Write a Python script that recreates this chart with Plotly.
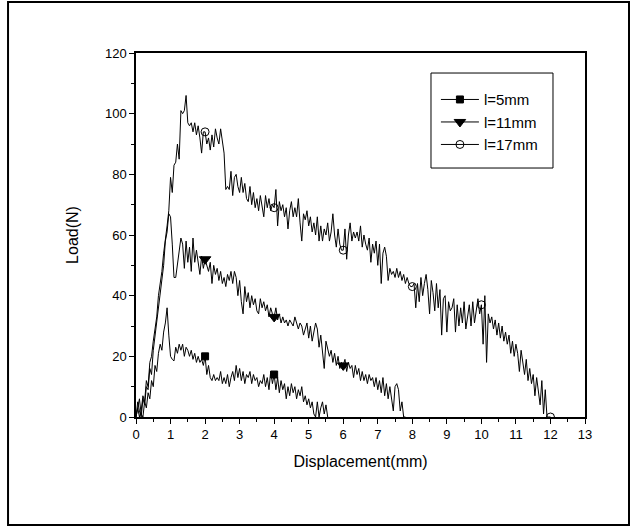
import plotly.graph_objects as go

STEP = 0.05  # displacement sampling interval (mm)

load_5mm = [0, 3, 6, 1, 0, 5, 3, 8, 6, 12, 10, 17, 15, 21, 24, 22, 28, 31, 36, 27,
            20, 19, 18.5, 23, 21, 24, 22, 24, 20, 23, 22, 20, 22, 19, 21, 18, 20, 18, 19, 17,
            20, 14, 17, 13, 12, 14, 12, 13, 12, 15, 11, 13, 11, 14, 10, 13, 15, 12, 17, 13,
            16, 12, 15, 11, 14, 13, 15, 11, 14, 12, 13, 10, 12, 11, 14, 10, 13, 9, 15, 11,
            14, 9, 13, 8, 12, 9, 11, 6, 10, 7, 11, 8, 10, 6, 9, 7, 10, 5, 7, 4,
            6, 3, 5, 1, 0, 5, 0, 3, 5, 1, 4, 0]

load_11mm = [0, 5, 2, 0, 6, 4, 10, 9, 16, 14, 22, 27, 30, 37, 42, 47, 50, 58, 61, 67,
             66, 57, 46, 46, 50, 55, 59, 57, 49, 58, 51, 56, 48, 59, 51, 55, 50, 47, 53, 49,
             52, 50, 48, 51, 44, 50, 47, 49, 45, 48, 44, 46, 43, 47, 45, 48, 44, 48, 46, 40,
             45, 38, 34, 43, 38, 41, 36, 40, 37, 39, 35, 34, 39, 36, 38, 35, 37, 33, 36, 34,
             33, 36, 32, 34, 31, 33, 31, 32, 30, 32, 31, 30, 33, 31, 29, 31, 30, 27, 29, 31,
             26, 30, 25, 28, 31, 29, 23, 27, 22, 16, 25, 22, 20, 22, 18, 21, 17, 20, 16, 18,
             17, 19, 15, 18, 16, 17, 13, 17, 14, 16, 12, 15, 12, 14, 11, 14, 12, 13, 10, 13,
             9, 12, 8, 13, 7, 11, 6, 10, 5, 2, 10, 11, 9, 2, 5, 0, 0]

load_17mm = [0, 3, 0, 2, 7, 5, 12, 10, 18, 20, 25, 29, 33, 40, 44, 48, 54, 58, 63, 68,
             79, 74, 83, 84, 90, 85, 101, 100, 101, 106, 97, 96, 97, 94, 97, 93, 96, 92, 87, 94,
             94, 90, 92, 88, 93, 89, 95, 92, 90, 95, 90, 87, 75, 76, 75, 81, 73, 79, 80, 76,
             74, 79, 74, 77, 72, 71, 76, 70, 74, 69, 72, 68, 73, 70, 66, 73, 69, 72, 68, 70,
             69, 75, 63, 71, 68, 70, 66, 69, 62, 68, 71, 66, 69, 66, 72, 64, 58, 67, 65, 68,
             63, 66, 61, 64, 60, 66, 58, 63, 58, 62, 60, 64, 58, 61, 67, 60, 56, 62, 57, 55,
             55, 62, 52, 60, 64, 58, 61, 59, 61, 58, 63, 56, 60, 57, 55, 59, 51, 57, 54, 58,
             50, 57, 44, 54, 56, 53, 45, 49, 47, 48, 46, 49, 46, 48, 45, 47, 44, 46, 44, 43,
             43, 44, 36, 44, 38, 46, 40, 44, 47, 42, 34, 45, 41, 35, 44, 36, 42, 27, 39, 40,
             28, 38, 35, 36, 39, 28, 37, 30, 36, 31, 38, 29, 34, 37, 30, 38, 31, 36, 39, 34,
             37, 24, 40, 18, 34, 31, 33, 29, 32, 27, 31, 26, 30, 25, 28, 24, 27, 21, 25, 20,
             24, 21, 15, 22, 17, 14, 19, 12, 16, 11, 14, 7, 13, 9, 4, 12, 1, 9, 0, 0, 0]

series_names = ["l=5mm", "l=11mm", "l=17mm"]
series_loads = [load_5mm, load_11mm, load_17mm]
series_symbols = ["square", "triangle-down", "circle-open"]
series_msizes = [7, 10, 8]
marker_x = [[2, 4], [2, 4, 6], [2, 4, 6, 8, 10, 12]]

x_ticks = list(range(0, 14))
y_ticks = list(range(0, 121, 20))

fig = go.Figure()
for name, ys, sym, ms, mx in zip(series_names, series_loads, series_symbols, series_msizes, marker_x):
    xs = [round(i * STEP, 2) for i in range(len(ys))]
    fig.add_trace(go.Scatter(x=xs, y=ys, mode="lines", line=dict(color="black", width=1),
                             showlegend=False, hoverinfo="skip"))
    idx = [min(range(len(xs)), key=lambda i: abs(xs[i] - m)) for m in mx]
    fig.add_trace(go.Scatter(x=[xs[i] for i in idx], y=[ys[i] for i in idx], mode="markers",
                             marker=dict(symbol=sym, size=ms, color="black",
                                         line=dict(color="black", width=1)),
                             showlegend=False, hoverinfo="skip"))
    fig.add_trace(go.Scatter(x=[None], y=[None], mode="lines+markers", name=name,
                             line=dict(color="black", width=1),
                             marker=dict(symbol=sym, size=ms, color="black",
                                         line=dict(color="black", width=1))))

axis_common = dict(showgrid=False, zeroline=False, showline=True, linecolor="black",
                   linewidth=1.5, mirror=True, ticks="outside", ticklen=5, tickwidth=1,
                   tickcolor="black", tickfont=dict(size=13, color="black"),
                   title_font=dict(size=16, color="black"))

fig.update_xaxes(range=[0, 13], tickvals=x_ticks, title_text="Displacement(mm)",
                 minor=dict(ticks="outside", ticklen=3, dtick=0.5, tickcolor="black"),
                 title_standoff=14, **axis_common)
fig.update_yaxes(range=[0, 120], tickvals=y_ticks, title_text="Load(N)",
                 minor=dict(ticks="outside", ticklen=3, dtick=10, tickcolor="black"),
                 title_standoff=22, **axis_common)

fig.update_layout(
    width=634, height=529,
    margin=dict(l=136, r=49, t=53, b=112),
    paper_bgcolor="white", plot_bgcolor="white",
    font=dict(family="Liberation Sans, Arial, sans-serif", color="black"),
    legend=dict(x=0.668, y=0.917, xanchor="left", yanchor="top",
                bgcolor="rgba(0,0,0,0)", borderwidth=0, itemwidth=38,
                font=dict(size=15, color="black"), tracegroupgap=0),
    shapes=[
        dict(type="rect", xref="paper", yref="paper", x0=0.657, x1=0.9287, y0=0.684, y1=0.945,
             line=dict(color="black", width=1)),
        dict(type="rect", xref="paper", yref="paper", x0=-0.285, x1=1.098, y0=-0.2967, y1=1.140,
             line=dict(color="black", width=2)),
    ],
)

fig.write_html("out.html")
